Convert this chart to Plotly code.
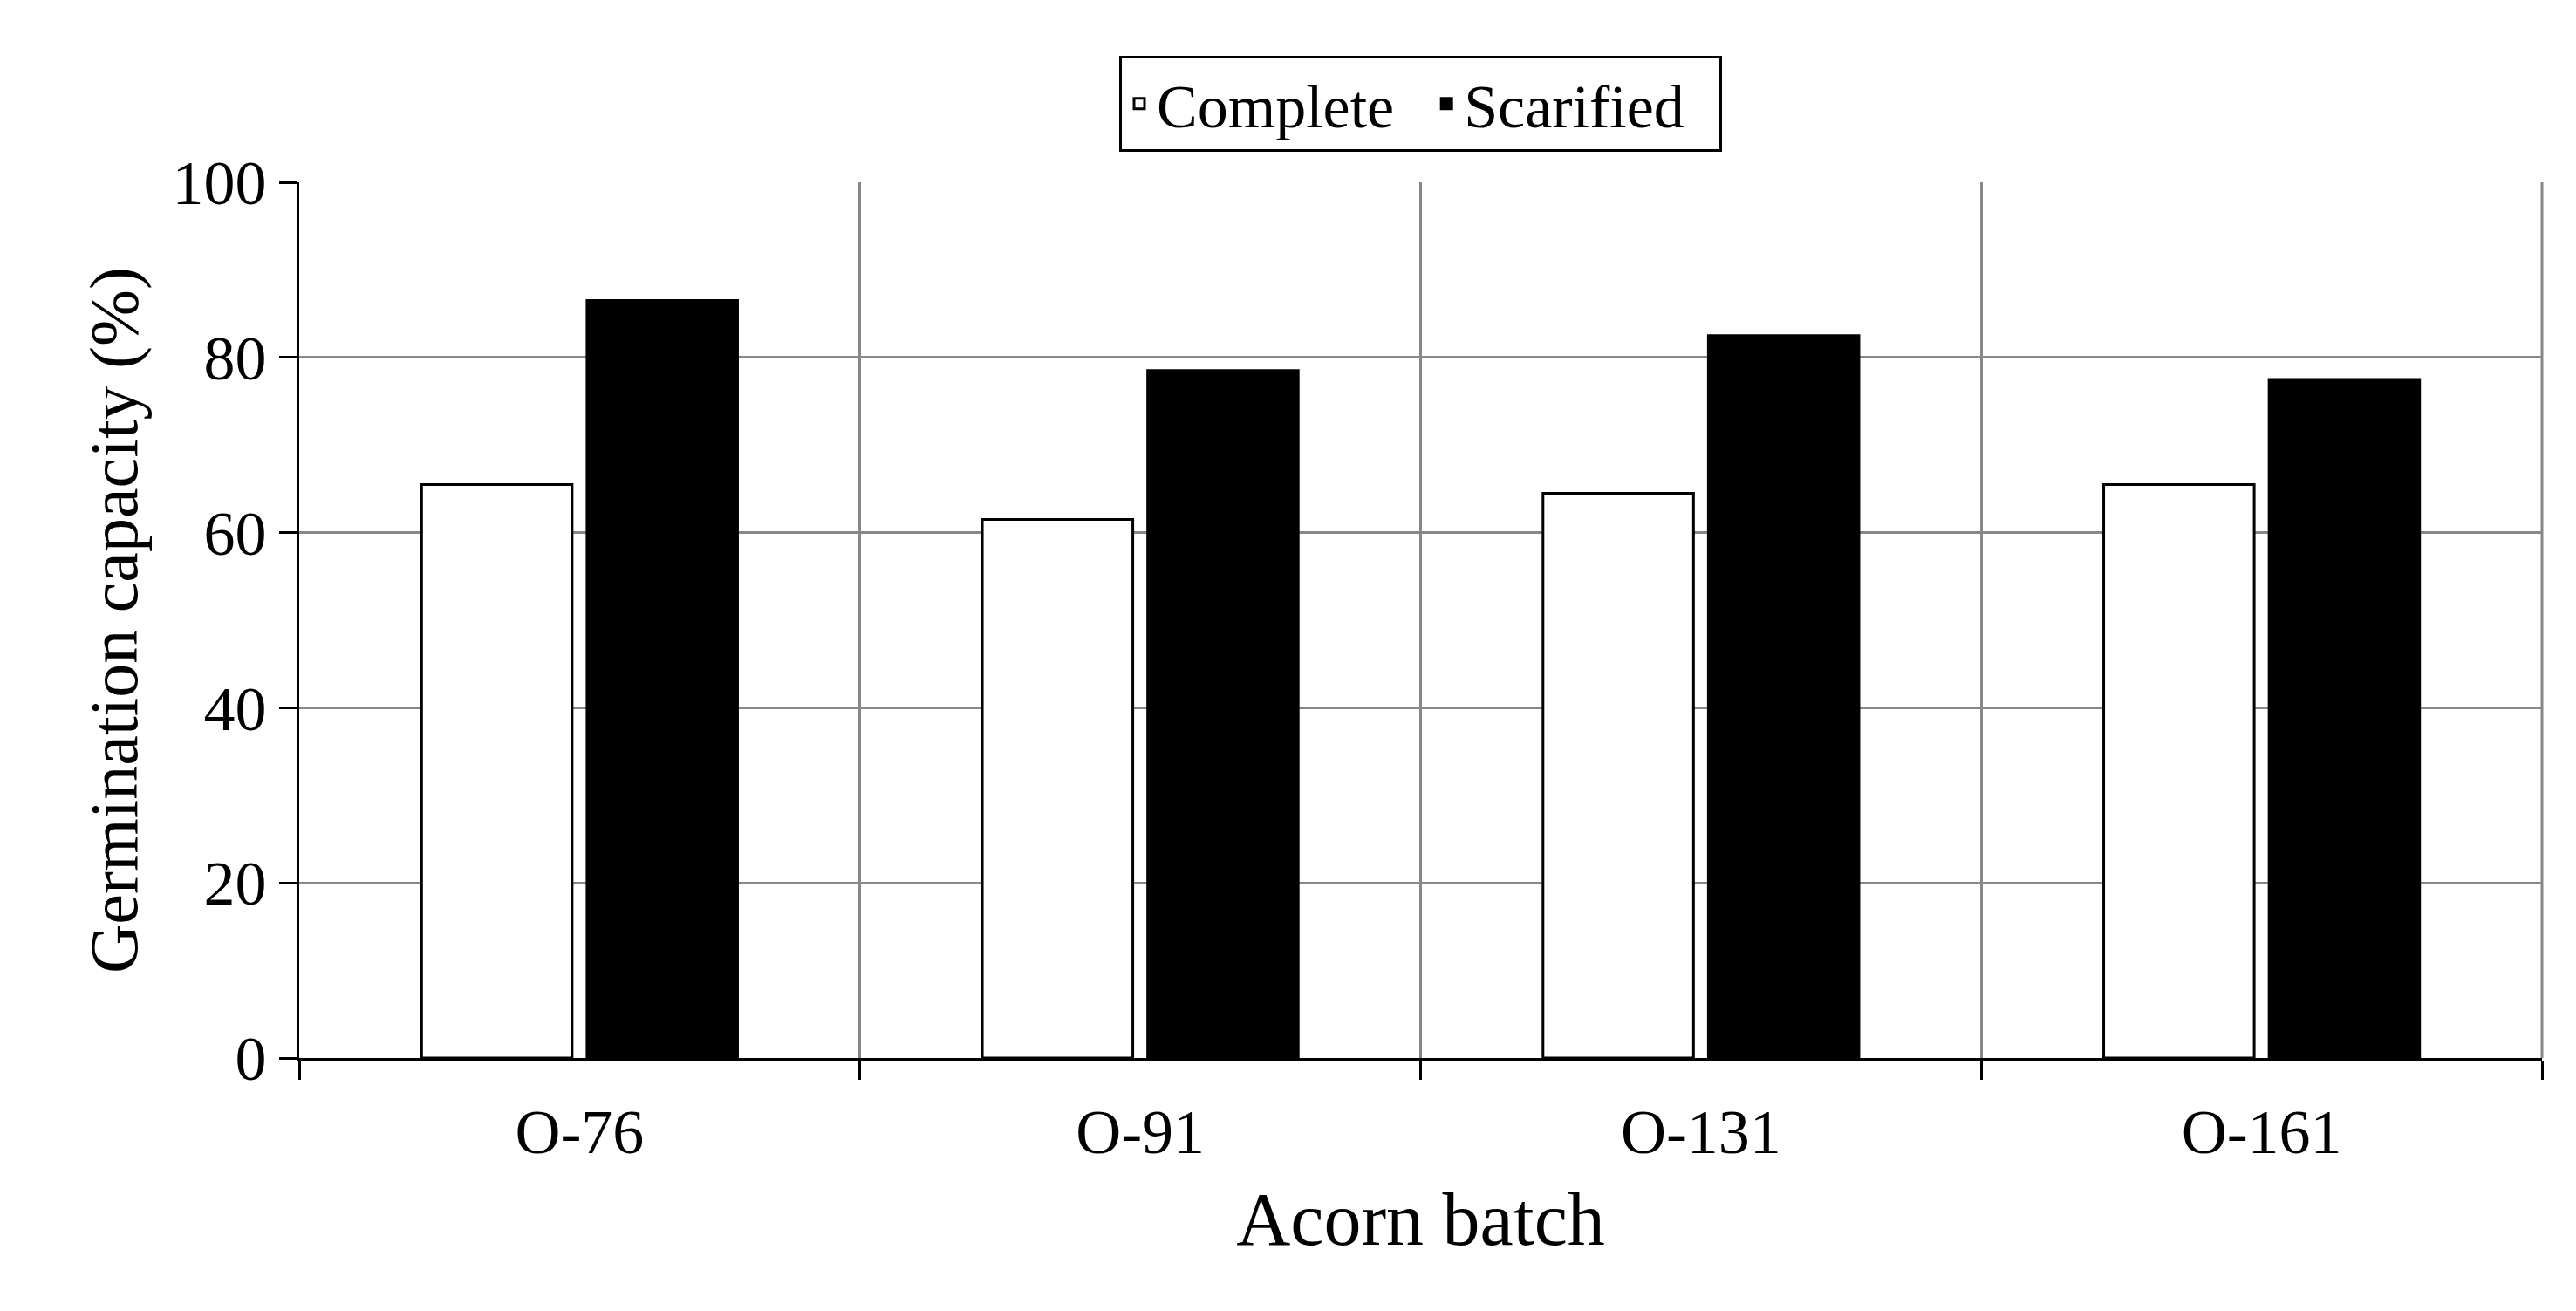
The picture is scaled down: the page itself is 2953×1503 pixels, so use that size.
import plotly.graph_objects as go

batches = ["O-76", "O-91", "O-131", "O-161"]
complete = [65.5, 61.5, 64.5, 65.5]
scarified = [86.5, 78.5, 82.5, 77.5]
yticks = [0, 20, 40, 60, 80, 100]

xs = list(range(len(batches)))
fig = go.Figure()
fig.add_bar(x=xs, y=complete, name="Complete  ", marker=dict(color="white", line=dict(color="black", width=3)))
fig.add_bar(x=xs, y=scarified, name="Scarified  ", marker=dict(color="black", line=dict(color="black", width=3)))

font = "Liberation Serif"
fig.update_layout(
    width=2953, height=1503, barmode="group", bargap=0.41, bargroupgap=0.09,
    plot_bgcolor="white", paper_bgcolor="white",
    margin=dict(l=335, r=47, t=201, b=298, autoexpand=False),
    font=dict(family=font, size=72, color="black"),
    legend=dict(orientation="h", x=0.5, xanchor="center", y=1.035, yanchor="bottom",
                bordercolor="black", borderwidth=3, font=dict(size=70), itemwidth=30),
    xaxis=dict(range=[-0.5, 3.5], tickvals=xs, ticktext=batches, ticks="", showgrid=False,
               showline=True, linecolor="black", linewidth=3, mirror=False,
               minor=dict(tickvals=[-0.5, 0.5, 1.5, 2.5, 3.5], ticks="outside", ticklen=22,
                          tickcolor="black", tickwidth=3, showgrid=True, gridcolor="#888888", gridwidth=3),
               title=dict(text="Acorn batch", standoff=30), ticklabelstandoff=20, zeroline=False),
    yaxis=dict(range=[0, 100], tickvals=yticks, showgrid=True, gridcolor="#888888", gridwidth=3,
               showline=True, linecolor="black", linewidth=3, ticks="outside", ticklen=20,
               tickcolor="black", tickwidth=3, zeroline=False,
               title=dict(text="Germination capacity (%)", standoff=15, font=dict(size=78))),
)
fig.add_shape(type="line", xref="paper", yref="paper", x0=1, x1=1, y0=0, y1=1,
              line=dict(color="#888888", width=3))
fig.write_html("out.html")
